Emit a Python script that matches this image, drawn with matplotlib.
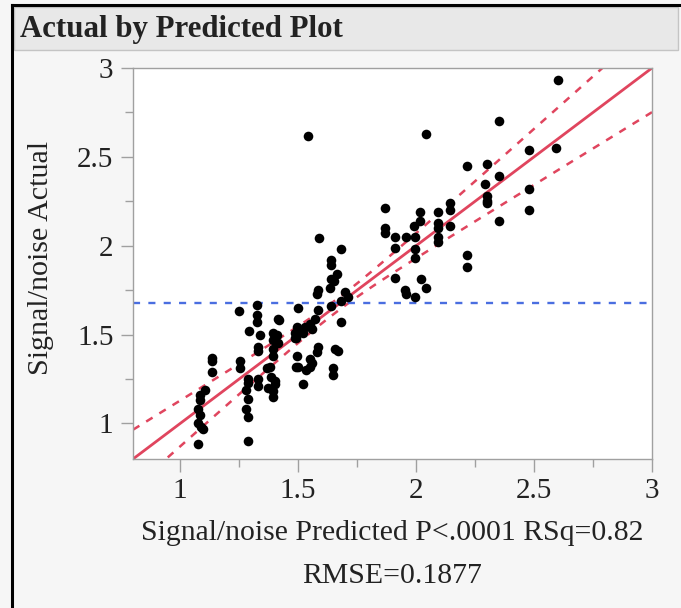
import numpy as np
import matplotlib
matplotlib.use("Agg")
import matplotlib.pyplot as plt
from matplotlib.patches import Rectangle

# ---- data ----
predicted = [
    2.60, 2.35, 2.48, 2.595, 2.217, 2.30, 2.35, 2.29, 2.30, 2.30, 2.30, 2.48, 2.48, 2.35,
    2.044, 1.868, 2.016, 2.094, 2.143, 2.143, 2.016, 1.99, 2.094, 2.094, 2.143, 1.868, 1.868,
    1.91, 1.957, 1.995, 2.094, 2.094, 1.91, 1.995, 1.995, 2.214, 2.214, 1.91, 2.02, 2.04,
    1.953, 1.957, 1.995,
    1.54, 1.589, 1.68, 1.638, 1.638, 1.663, 1.64, 1.65, 1.585, 1.578, 1.635, 1.70, 1.71, 1.68,
    1.50, 1.585, 1.638, 1.42, 1.571, 1.55, 1.53, 1.494, 1.486, 1.52, 1.557, 1.68,
    1.394, 1.41, 1.394, 1.416, 1.486, 1.585, 1.578, 1.656, 1.67, 1.494, 1.55, 1.557,
    1.50, 1.535, 1.55, 1.649, 1.649, 1.38, 1.387, 1.40, 1.52,
    1.324, 1.25, 1.324, 1.324, 1.416, 1.293, 1.338, 1.33, 1.33, 1.394, 1.394, 1.49, 1.49,
    1.133, 1.133, 1.133, 1.253, 1.253, 1.366, 1.289, 1.289, 1.33, 1.33, 1.40, 1.373,
    1.394, 1.394, 1.105, 1.084, 1.084, 1.28, 1.289, 1.077, 1.084, 1.28, 1.289,
    1.075, 1.09, 1.098, 1.077, 1.289,
]
actual = [
    2.93, 2.70, 2.54, 2.55, 2.45, 2.46, 2.39, 2.35, 2.28, 2.25, 2.24, 2.32, 2.20, 2.14,
    2.63, 2.21, 2.19, 2.19, 2.24, 2.20, 2.14, 2.11, 2.13, 2.10, 2.11, 2.10, 2.07,
    2.05, 2.05, 2.05, 2.05, 2.02, 1.99, 1.98, 1.93, 1.95, 1.88, 1.82, 1.81, 1.76,
    1.75, 1.73, 1.71,
    2.62, 2.046, 1.98, 1.92, 1.89, 1.84, 1.81, 1.80, 1.75, 1.73, 1.76, 1.74, 1.71, 1.69,
    1.65, 1.64, 1.66, 1.58, 1.59, 1.56, 1.54, 1.54, 1.51, 1.51, 1.53, 1.57,
    1.51, 1.50, 1.47, 1.45, 1.48, 1.43, 1.40, 1.42, 1.41, 1.38, 1.36, 1.34,
    1.32, 1.30, 1.32, 1.31, 1.27, 1.32, 1.26, 1.22, 1.22,
    1.665, 1.63, 1.61, 1.57, 1.59, 1.52, 1.50, 1.43, 1.41, 1.42, 1.38, 1.48, 1.32,
    1.37, 1.35, 1.29, 1.35, 1.31, 1.31, 1.25, 1.23, 1.25, 1.21, 1.24, 1.20,
    1.18, 1.15, 1.19, 1.16, 1.13, 1.19, 1.14, 1.08, 1.05, 1.08, 1.035,
    1.00, 0.98, 0.97, 0.885, 0.904,
]
mean_actual = 1.676          # horizontal reference (mean of response)
band_center = 1.67           # where the confidence curves are narrowest
band_a, band_b = 0.035, 0.185  # confidence-curve half-width parameters
x_ticks = [1, 1.5, 2, 2.5, 3]
y_ticks = [1, 1.5, 2, 2.5, 3]
x_minor = [1.25, 1.75, 2.25, 2.75]
y_minor = [1.25, 1.75, 2.25, 2.75]
tick_labels = ["1", "1.5", "2", "2.5", "3"]
title = "Actual by Predicted Plot"
xlabel_line1 = "Signal/noise Predicted P<.0001 RSq=0.82"
xlabel_line2 = "RMSE=0.1877"
ylabel = "Signal/noise Actual"

W, H = 681, 608
fig = plt.figure(figsize=(W / 100, H / 100), dpi=100)
fig.patch.set_facecolor("#f6f6f6")
serif = ["Liberation Serif", "DejaVu Serif"]
ink = "#222222"

def fx(px):
    return px / W

def fy(py):
    return 1 - py / H

# outer frame (top + left black border)
fig.add_artist(plt.Line2D([fx(12), fx(681)], [fy(5), fy(5)], color="black", lw=2.2,
                          transform=fig.transFigure))
fig.add_artist(plt.Line2D([fx(12), fx(12)], [fy(5), fy(608)], color="black", lw=2.2,
                          transform=fig.transFigure))
# title bar
fig.add_artist(Rectangle((fx(14), fy(50)), fx(678) - fx(14), fy(7) - fy(50),
                         transform=fig.transFigure, facecolor="#e8e8e8",
                         edgecolor="#c4c4c4", lw=1.0))
fig.text(fx(20), fy(30), title, fontsize=22.2, fontweight="bold", family=serif,
         color=ink, va="center", ha="left")

ax = fig.add_axes([fx(133), fy(459), fx(652) - fx(133), fy(68) - fy(459)])
ax.set_facecolor("white")
ax.set_xlim(0.8, 3.0)
ax.set_ylim(0.8, 3.0)

xs = np.linspace(0.8, 3.0, 200)
half = np.sqrt(band_a ** 2 + (band_b * (xs - band_center)) ** 2)
red = "#e0455e"
ax.plot(xs, xs, color=red, lw=2.0, zorder=2)
ax.plot(xs, xs + half, color=red, lw=1.8, ls=(0, (3, 3.2)), zorder=2)
ax.plot(xs, xs - half, color=red, lw=1.8, ls=(0, (3, 3.2)), zorder=2)
ax.axhline(mean_actual, color="#4a6ee0", lw=1.7, ls=(0, (3, 3.5)), zorder=2)
ax.scatter(predicted, actual, s=48, color="black", zorder=3, linewidths=0)

ax.set_xticks(x_ticks)
ax.set_yticks(y_ticks)
ax.set_xticks(x_minor, minor=True)
ax.set_yticks(y_minor, minor=True)
ax.set_xticklabels(tick_labels)
ax.set_yticklabels(tick_labels)
for s in ax.spines.values():
    s.set_color("#a0a0a0")
    s.set_linewidth(1.0)
ax.tick_params(which="major", length=9, width=1, color="#a0a0a0", direction="out",
               labelsize=21, labelcolor=ink, pad=5)
ax.tick_params(which="minor", length=6, width=1, color="#a0a0a0", direction="out")
for lab in ax.get_xticklabels() + ax.get_yticklabels():
    lab.set_family(serif)

# axis titles placed as in the reference
fig.text(fx(392), fy(533), xlabel_line1, fontsize=21.4, family=serif, color=ink,
         ha="center", va="center")
fig.text(fx(392), fy(576), xlabel_line2, fontsize=21.4, family=serif, color=ink,
         ha="center", va="center")
fig.text(fx(41), fy(258), ylabel, fontsize=21.6, family=serif, color=ink,
         ha="center", va="center", rotation=90)

fig.savefig("out.png", dpi=100, facecolor=fig.get_facecolor())
